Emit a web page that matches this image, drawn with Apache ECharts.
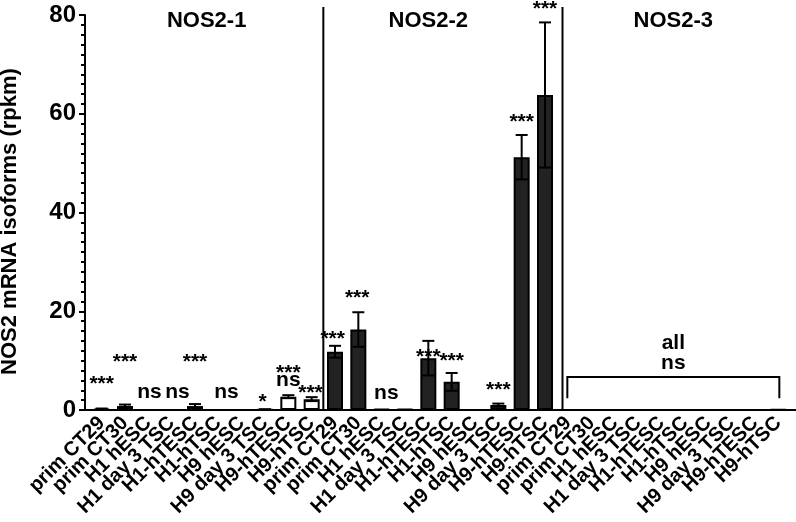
<!DOCTYPE html>
<html>
<head>
<meta charset="utf-8">
<script src="https://cdn.jsdelivr.net/npm/echarts@6/dist/echarts.min.js"></script>
<style>
  html, body { margin: 0; background: #fff; }
  #chart { width: 796px; height: 522px; }
</style>
</head>
<body>
<div id="chart"></div>
<script>
// cell lines, repeated for each isoform
const cellLines = ['prim CT29', 'prim CT30', 'H1 hESC', 'H1 day 3 TSC', 'H1-hTESC',
  'H1-hTSC', 'H9 hESC', 'H9 day 3 TSC', 'H9-hTESC', 'H9-hTSC'];
const isoforms = ['NOS2-1', 'NOS2-2', 'NOS2-3'];

// rpkm means and error (SD) per isoform
const nos21 = [0.2, 0.8, 0, 0, 0.8, 0, 0, 0.1, 2.7, 2.2];
const nos21Err = [0.1, 0.3, 0, 0, 0.4, 0, 0, 0.05, 0.3, 0.4];
const nos22 = [11.8, 16.3, 0.2, 0.2, 10.5, 5.7, 0, 1.0, 51.2, 63.8];
const nos22Err = [1.2, 3.5, 0, 0, 3.5, 1.8, 0, 0.3, 4.5, 14.7];
const nos23 = [0, 0, 0, 0, 0, 0, 0, 0, 0, 0.1];
const nos23Err = [0, 0, 0, 0, 0, 0, 0, 0, 0, 0];

const yTicks = [0, 20, 40, 60, 80];

// significance marks: [category position, text, height in rpkm]
const marks = [
  [0, '***', 5.3], [1, '***', 9.7], [2.05, 'ns', 3.6], [3.25, 'ns', 3.6],
  [4, '***', 9.7], [5.35, 'ns', 3.6], [6.9, '*', 1.6], [8, '***', 7.5],
  [8, 'ns', 6.1], [8.95, '***', 3.4],
  [9.9, '***', 14.4], [10.95, '***', 22.7], [12.2, 'ns', 3.5], [14, '***', 10.7],
  [15, '***', 9.9], [17, '***', 4.0], [18, '***', 58.3], [19, '***', 81.2]
];
const groupNote = ['all', 'ns'];

const categories = isoforms.flatMap(() => cellLines);
const values = [...nos21, ...nos22, ...nos23];
const errors = [...nos21Err, ...nos22Err, ...nos23Err];

const font = '"Liberation Sans", Arial, Helvetica, sans-serif';
const chart = echarts.init(document.getElementById('chart'));

chart.setOption({
  animation: false,
  backgroundColor: '#fff',
  grid: { left: 90, width: 700, top: 15, bottom: 112, containLabel: false, outerBoundsMode: 'none' },
  xAxis: {
    type: 'category',
    data: categories.map((_, i) => String(i)),
    axisLine: { lineStyle: { color: '#000', width: 2 } },
    axisTick: { alignWithLabel: true, length: 5, lineStyle: { color: '#000', width: 2 } },
    axisLabel: {
      interval: 0,
      rotate: 45,
      margin: 10,
      color: '#000',
      fontFamily: font,
      fontWeight: 'bold',
      fontSize: 20,
      formatter: v => categories[+v]
    }
  },
  yAxis: {
    type: 'value',
    min: yTicks[0],
    max: yTicks[yTicks.length - 1],
    interval: yTicks[1] - yTicks[0],
    offset: 5,
    name: 'NOS2 mRNA isoforms (rpkm)',
    nameLocation: 'middle',
    nameGap: 64,
    nameTextStyle: {
      color: '#000', fontFamily: font, fontWeight: 'bold', fontSize: 22,
      padding: [0, 18, 0, 0]
    },
    axisLine: { show: true, lineStyle: { color: '#000', width: 2 } },
    axisTick: { show: true, length: 6, lineStyle: { color: '#000', width: 2 } },
    minorTick: { show: true, splitNumber: 10, length: 4, lineStyle: { color: '#000', width: 2 } },
    splitLine: { show: false },
    axisLabel: {
      margin: 9, color: '#000', fontFamily: font, fontWeight: 'bold', fontSize: 24
    }
  },
  series: [
    {
      type: 'bar',
      barWidth: 16,
      data: values.map((v, i) => ({
        value: v,
        itemStyle: {
          color: Math.floor(i / cellLines.length) === 1 ? '#222' : '#fff',
          borderColor: '#000',
          borderWidth: 2
        }
      }))
    },
    {
      type: 'custom',
      data: values.map((v, i) => [i, v, errors[i]]),
      renderItem: (params, api) => {
        const i = api.value(0), v = api.value(1), e = api.value(2);
        if (!e) return;
        const top = api.coord([i, v + e]);
        const bot = api.coord([i, Math.max(0, v - e)]);
        const half = 6;
        const style = { stroke: '#000', lineWidth: 2 };
        return {
          type: 'group',
          children: [
            { type: 'line', shape: { x1: top[0], y1: top[1], x2: bot[0], y2: bot[1] }, style },
            { type: 'line', shape: { x1: top[0] - half, y1: top[1], x2: top[0] + half, y2: top[1] }, style },
            { type: 'line', shape: { x1: bot[0] - half, y1: bot[1], x2: bot[0] + half, y2: bot[1] }, style }
          ]
        };
      },
      z: 5
    }
  ]
});

// helpers through the chart's own scales
const p0 = chart.convertToPixel({ gridIndex: 0 }, [0, 0]);
const p1 = chart.convertToPixel({ gridIndex: 0 }, [1, 0]);
const step = p1[0] - p0[0];
const xAt = f => p0[0] + f * step;
const yAt = v => chart.convertToPixel({ gridIndex: 0 }, [0, v])[1];

const textStyle = (text, size) => ({
  text, fill: '#000', font: `bold ${size}px ${font}`, align: 'center', verticalAlign: 'middle'
});
const lineStyle = { stroke: '#000', lineWidth: 2 };

const graphics = [];
const y0 = yAt(0);
// full-length baseline
graphics.push({ type: 'line', shape: { x1: xAt(-0.5) - 6, y1: y0, x2: xAt(29.5) + 8, y2: y0 }, style: lineStyle, z: 10 });
// group separators
[9.5, 19.75].forEach(f => {
  graphics.push({ type: 'line', shape: { x1: xAt(f), y1: yAt(81.6), x2: xAt(f), y2: y0 }, style: lineStyle, z: 10 });
});
// group titles
[4.5, 14, 24.5].forEach((f, g) => {
  graphics.push({ type: 'text', x: xAt(f), y: yAt(78.8), style: textStyle(isoforms[g], 22), z: 10 });
});
// significance marks
marks.forEach(([f, t, h]) => {
  graphics.push({ type: 'text', x: xAt(f), y: yAt(h), style: textStyle(t, 21), z: 10 });
});
// bracket over NOS2-3
const bx1 = xAt(20) - 1, bx2 = xAt(29) + 1;
graphics.push({
  type: 'polyline',
  shape: { points: [[bx1, yAt(2.4)], [bx1, yAt(6.7)], [bx2, yAt(6.7)], [bx2, yAt(2.4)]] },
  style: Object.assign({ fill: null }, lineStyle), z: 10
});
graphics.push({ type: 'text', x: xAt(24.5), y: yAt(13.6), style: textStyle(groupNote[0], 21), z: 10 });
graphics.push({ type: 'text', x: xAt(24.5), y: yAt(9.5), style: textStyle(groupNote[1], 21), z: 10 });

chart.setOption({ graphic: graphics });
</script>
</body>
</html>
